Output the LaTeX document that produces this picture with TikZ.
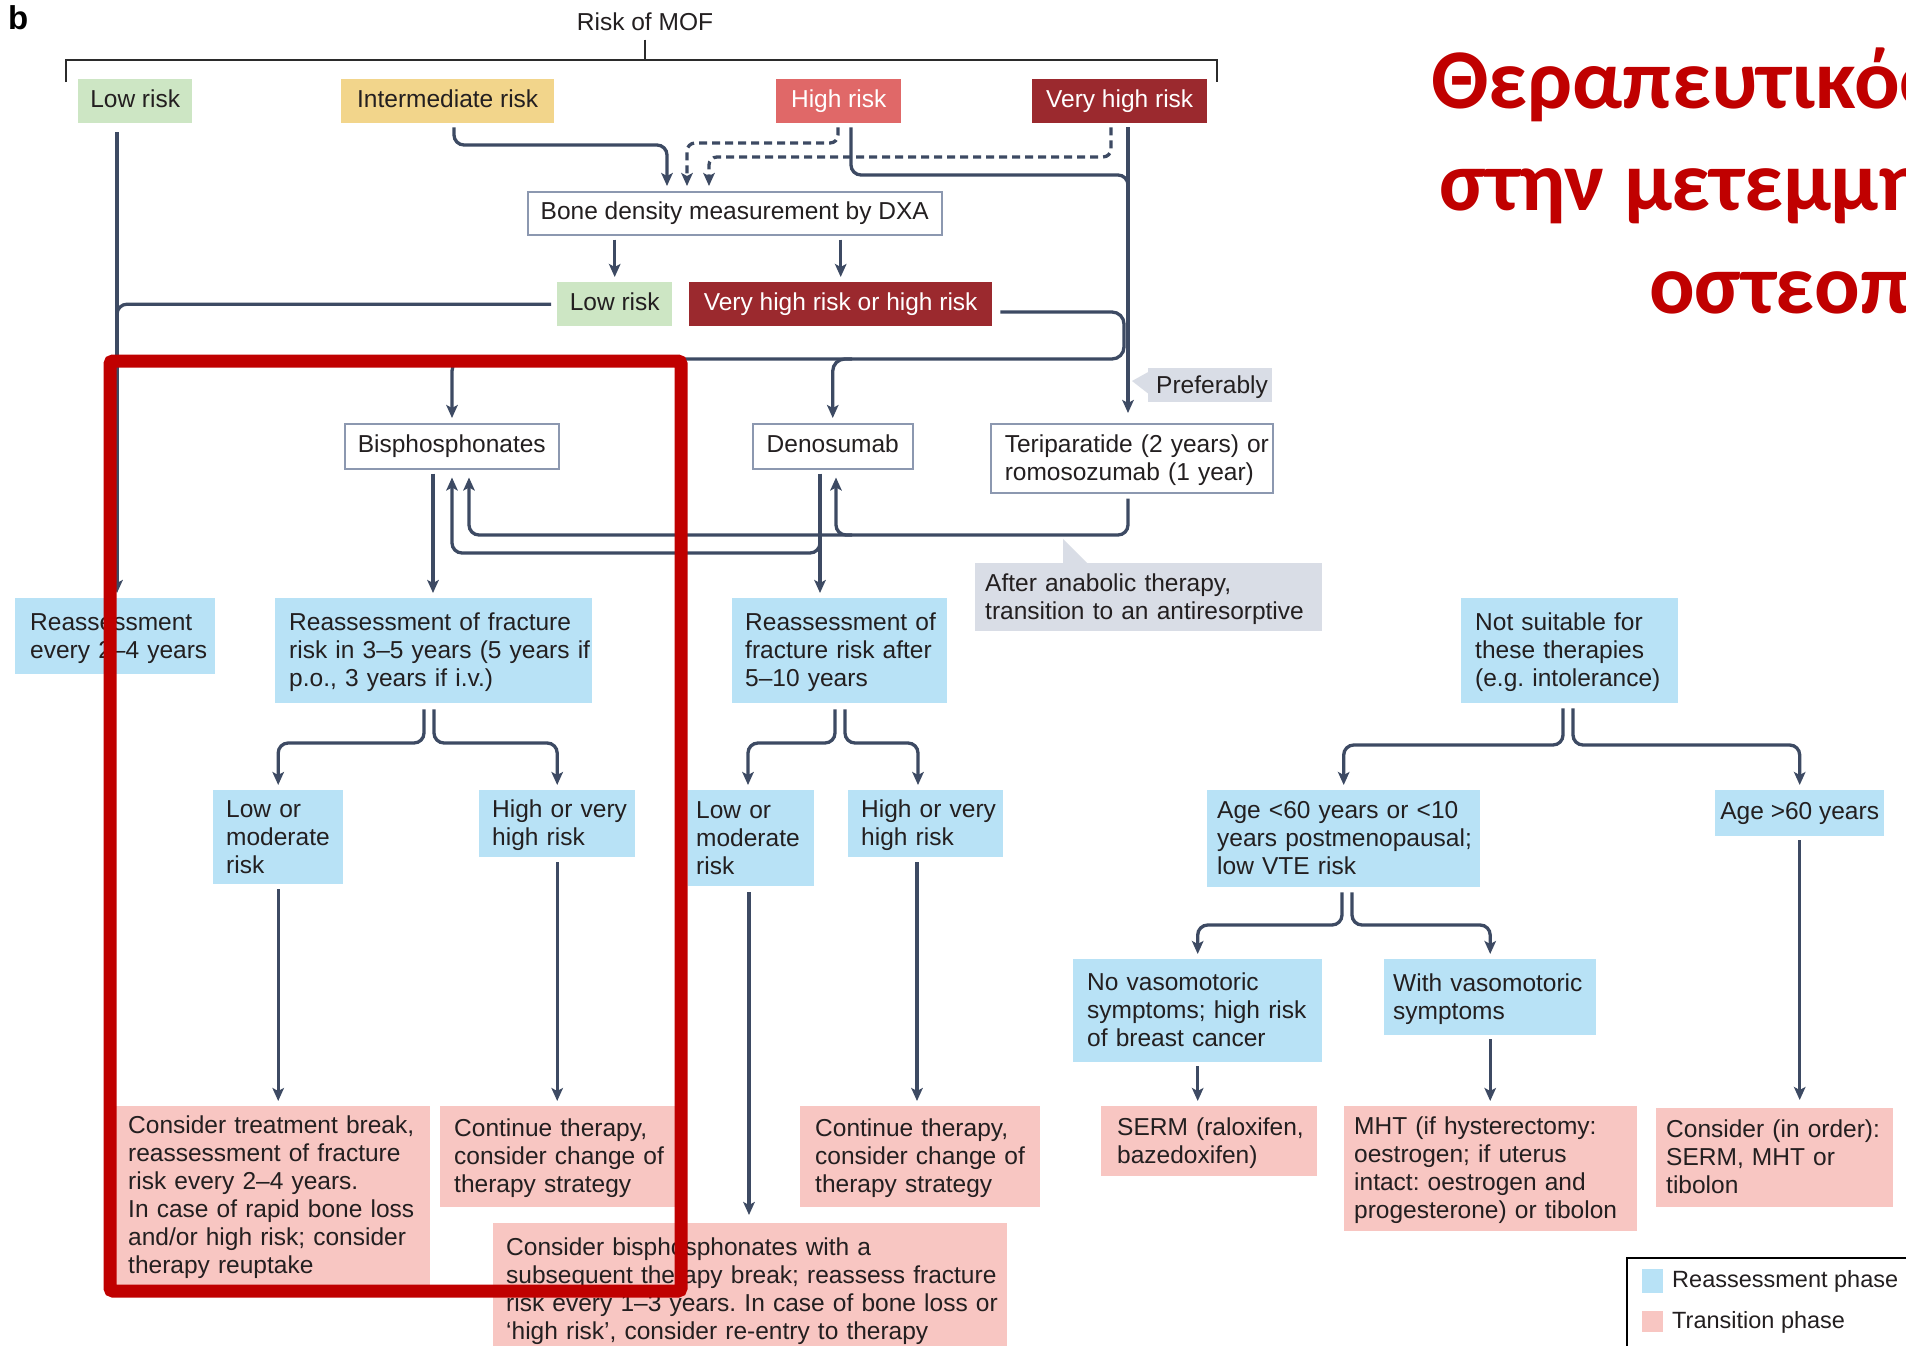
\documentclass[tikz,border=0pt]{standalone}
\usepackage{fontspec}
\setmainfont{Liberation Sans}
\newfontfamily\titlefont{Carlito}
\usetikzlibrary{arrows.meta,calc}
\frenchspacing
\definecolor{lnc}{HTML}{3D4A63}
\definecolor{txt}{HTML}{231F20}
\definecolor{bluef}{HTML}{B8E2F6}
\definecolor{pinkf}{HTML}{F8C6C2}
\definecolor{greenf}{HTML}{CDE6C4}
\definecolor{yellf}{HTML}{F2D58B}
\definecolor{hif}{HTML}{E06868}
\definecolor{vhif}{HTML}{9B292E}
\definecolor{greyf}{HTML}{D9DDE6}
\definecolor{bord}{HTML}{8C98B0}
\definecolor{hl}{HTML}{C00000}
\definecolor{brkc}{HTML}{2B2B2B}
\tikzset{
  basefont/.style={font=\frenchspacing\fontsize{24.5}{28}\selectfont, text=txt},
  lbox/.style={basefont, fill=bluef},
  pbox/.style={basefont, fill=pinkf},
  gbox/.style={basefont, fill=greenf},
  ybox/.style={basefont, fill=yellf},
  hbox/.style={basefont, fill=hif, text=white},
  vbox/.style={basefont, fill=vhif, text=white},
  wbox/.style={basefont, draw=bord, line width=1.5pt, fill=white},
  cbox/.style={basefont, fill=greyf},
  ln/.style={draw=lnc, line width=3.3pt},
  arr/.style={ln, -{Stealth[length=13pt,width=11.5pt,inset=3pt]}, shorten >=5pt},
  dsh/.style={arr, dash pattern=on 8pt off 5pt},
  brk/.style={draw=brkc, line width=2pt},
  ttl/.style={font=\titlefont\bfseries\fontsize{85}{100}\selectfont, text=hl, inner sep=0pt, anchor=base west},
}
% left-aligned box: [pad]{name}{style}{x1}{y1}{x2}{y2}{text}
\newcommand\bx[8][13]{%
  \pgfmathsetmacro\bxw{#6-#4}%
  \pgfmathsetmacro\bxh{#7-#5}%
  \pgfmathsetmacro\bxt{#6-#4-2*#1}%
  \node[#3, anchor=north west, minimum width=\bxw pt, minimum height=\bxh pt,
        text width=\bxt pt, inner xsep=#1pt, inner ysep=0pt, align=left]
        (#2) at (#4,#5) {\raisebox{-2.5pt}[\height][\depth]{\begin{tabular}{@{}l@{}}#8\end{tabular}}};}
% centred one-line box: {name}{style}{x1}{y1}{x2}{y2}{text}
\newcommand\cbx[7]{%
  \pgfmathsetmacro\bxw{#5-#3}%
  \pgfmathsetmacro\bxh{#6-#4}%
  \node[#2, anchor=north west, minimum width=\bxw pt, minimum height=\bxh pt,
        inner sep=0pt, text height=17.5pt, text depth=5pt, align=center]
        (#1) at (#3,#4) {#7};}
\begin{document}
\begin{tikzpicture}[x=1pt,y=-1pt]
\useasboundingbox (0,0) rectangle (1906,1345);
\clip (0,0) rectangle (1906,1345);
\fill[white] (0,0) rectangle (1906,1345);

% panel letter and title
\node[font=\bfseries\fontsize{33}{35}\selectfont, text=black, anchor=north west, inner sep=0pt] (lbl) at (8,5) {b};
\node[basefont, inner sep=0pt] (mof) at (645,21.5) {Risk of MOF};
\node[ttl] (t1) at (1431,108) {Θεραπευτικός};
\node[ttl] (t2) at (1439,210) {στην μετεμμη};
\node[ttl] (t3) at (1649,313) {οστεοπ};

% bracket
\coordinate (bl) at (66,60);
\coordinate (br) at (1217,60);
\draw[brk] (66,82) -- (bl) -- (br) -- (1217,82);
\draw[brk, shorten <=9pt] (mof.south) -- (mof.south |- bl);

% nodes
\cbx{lra}{gbox}{78}{79}{192}{123}{Low risk}
\cbx{ira}{ybox}{341}{79}{554}{123}{Intermediate risk}
\cbx{hra}{hbox}{776}{79}{901}{123}{High risk}
\cbx{vha}{vbox}{1032}{79}{1207}{123}{Very high risk}
\cbx{dxa}{wbox}{527}{191}{941}{234}{Bone density measurement by DXA}
\cbx{lrb}{gbox}{557}{282}{672}{326}{Low risk}
\cbx{vhb}{vbox}{689}{282}{992}{326}{Very high risk or high risk}
\cbx{bis}{wbox}{344}{423}{558}{468}{Bisphosphonates}
\cbx{den}{wbox}{752}{423}{912}{468}{Denosumab}
\bx[14]{ter}{wbox}{990}{423}{1272}{492}{Teriparatide (2 years) or\\romosozumab (1 year)}
\bx[8]{pref}{cbox}{1148}{368}{1272}{402}{Preferably}
\bx[10]{ana}{cbox}{975}{563}{1322}{631}{After anabolic therapy,\\transition to an antiresorptive}
\bx[15]{rea}{lbox}{15}{598}{215}{674}{Reassessment\\every 2–4 years}
\bx[14]{reb}{lbox}{275}{598}{592}{703}{Reassessment of fracture\\risk in 3–5 years (5 years if\\p.o., 3 years if i.v.)}
\bx{rdn}{lbox}{732}{598}{947}{703}{Reassessment of\\fracture risk after\\5–10 years}
\bx[14]{nsu}{lbox}{1461}{598}{1678}{703}{Not suitable for\\these therapies\\(e.g. intolerance)}
\bx{lmb}{lbox}{213}{790}{343}{884}{Low or\\moderate\\risk}
\bx{hvb}{lbox}{479}{790}{635}{857}{High or very\\high risk}
\bx[8]{lmd}{lbox}{688}{790}{814}{886}{Low or\\moderate\\risk}
\bx{hvd}{lbox}{848}{790}{1003}{857}{High or very\\high risk}
\bx[10]{agl}{lbox}{1207}{790}{1480}{887}{Age <60 years or <10\\years postmenopausal;\\low VTE risk}
\cbx{agg}{lbox}{1715}{790}{1884}{836}{Age >60 years}
\bx[14]{nov}{lbox}{1073}{959}{1322}{1062}{No vasomotoric\\symptoms; high risk\\of breast cancer}
\bx[9]{wva}{lbox}{1384}{959}{1596}{1035}{With vasomotoric\\symptoms}
\bx[12]{ctb}{pbox}{116}{1106}{430}{1285}{Consider treatment break,\\reassessment of fracture\\risk every 2–4 years.\\In case of rapid bone loss\\and/or high risk; consider\\therapy reuptake}
\bx[14]{ctda}{pbox}{440}{1106}{676}{1207}{Continue therapy,\\consider change of\\therapy strategy}
\bx{cbs}{pbox}{493}{1223}{1007}{1355}{Consider bisphosphonates with a\\subsequent therapy break; reassess fracture\\risk every 1–3 years. In case of bone loss or\\‘high risk’, consider re-entry to therapy}
\bx[15]{ctdb}{pbox}{800}{1106}{1040}{1207}{Continue therapy,\\consider change of\\therapy strategy}
\bx[16]{ser}{pbox}{1101}{1106}{1317}{1176}{SERM (raloxifen,\\bazedoxifen)}
\bx[10]{mht}{pbox}{1344}{1106}{1637}{1231}{MHT (if hysterectomy:\\oestrogen; if uterus\\intact: oestrogen and\\progesterone) or tibolon}
\bx[10]{cio}{pbox}{1656}{1108}{1893}{1207}{Consider (in order):\\SERM, MHT or\\tibolon}

% callout pointers
\fill[greyf] (1132,381) -- (1150,371) -- (1150,395) -- cycle;
\fill[greyf] (1063,539) -- (1063,564) -- (1088,564) -- cycle;

% guide coordinates
\coordinate (xa) at (117,0);
\coordinate (xv) at (1128,0);
\coordinate (xb) at (433,0);
\coordinate (xd) at (836,0);
\coordinate (xe) at (820,0);
\coordinate (xl) at (748,0);
\coordinate (xr) at (918,0);
\coordinate (xf) at (749,0);
\coordinate (xg) at (917,0);

% low risk paths
\draw[arr, shorten <=9pt] (lra.south -| xa) -- (rea.north -| xa);
\draw[ln, rounded corners=10pt, shorten <=6pt] (lrb.west) -- (lrb.west -| xa) -- ++(0,30);

% intermediate risk
\coordinate (ia1) at (454,145); \coordinate (ia2) at (667,145);
\draw[arr, rounded corners=10pt, shorten <=4pt] (ira.south -| ia1) -- (ia1) -- (ia2) -- (dxa.north -| ia2);
% dashed from high and very high risk
\coordinate (hd1) at (838,143); \coordinate (hd2) at (687,143);
\draw[dsh, rounded corners=8pt, shorten <=4pt] (hra.south -| hd1) -- (hd1) -- (hd2) -- (dxa.north -| hd2);
\coordinate (vd1) at (1111,157); \coordinate (vd2) at (709,157);
\draw[dsh, rounded corners=8pt, shorten <=4pt] (vha.south -| vd1) -- (vd1) -- (vd2) -- (dxa.north -| vd2);
% solid from high risk and very high risk
\coordinate (hs1) at (851,175);
\draw[ln, rounded corners=10pt, shorten <=4pt] (hra.south -| hs1) -- (hs1) -- (hs1 -| xv) -- ++(0,25);
\draw[arr, shorten <=4pt, shorten >=10pt] (vha.south -| xv) -- (ter.north -| xv);

% DXA outcomes
\draw[arr, shorten <=4pt] (dxa.south -| lrb.north) -- (lrb.north);
\draw[arr, shorten <=4pt] (dxa.south -| vhb.north) -- (vhb.north);

% very high / high -> bisphosphonates, denosumab
\coordinate (vb1) at (1124,312); \coordinate (vb2) at (1124,359); \coordinate (vb3) at (452,359);
\draw[arr, rounded corners=12pt, shorten <=8pt] (vhb.east |- vb1) -- (vb1) -- (vb2) -- (vb3) -- (bis.north -| vb3);
\coordinate (vb4) at (852,359);
\draw[arr, rounded corners=12pt] (vb4) -| (den.north);

% bisphosphonates down
\draw[arr, shorten <=4pt] (bis.south -| xb) -- (reb.north -| xb);
% teriparatide -> bisphosphonates, denosumab
\coordinate (tb1) at (1128,535); \coordinate (tb2) at (469,535);
\draw[arr, rounded corners=10pt, shorten <=5pt, shorten >=8pt] (ter.south -| tb1) -- (tb1) -- (tb2) -- (bis.south -| tb2);
\coordinate (tb3) at (852,535);
\draw[arr, rounded corners=10pt, shorten >=8pt] (tb3) -| (den.south -| xd);
% denosumab down and back to bisphosphonates
\draw[arr, shorten <=4pt] (den.south -| xe) -- (rdn.north -| xe);
\coordinate (db1) at (820,520); \coordinate (db2) at (820,553); \coordinate (db3) at (452,553);
\draw[arr, rounded corners=10pt, shorten >=8pt] (db1) -- (db2) -- (db3) -- (bis.south -| db3);

% splits
\coordinate (rs1) at (424,743); \coordinate (rs2) at (434,743);
\draw[arr, rounded corners=10pt, shorten <=6pt] (reb.south -| rs1) -- (rs1) -- (rs1 -| lmb.north) -- (lmb.north);
\draw[arr, rounded corners=10pt, shorten <=6pt] (reb.south -| rs2) -- (rs2) -- (rs2 -| hvb.north) -- (hvb.north);
\coordinate (ds1) at (835,743); \coordinate (ds2) at (845,743);
\draw[arr, rounded corners=10pt, shorten <=6pt] (rdn.south -| ds1) -- (ds1) -- (ds1 -| xl) -- (lmd.north -| xl);
\draw[arr, rounded corners=10pt, shorten <=6pt] (rdn.south -| ds2) -- (ds2) -- (ds2 -| xr) -- (hvd.north -| xr);
\coordinate (ns1) at (1563,745); \coordinate (ns2) at (1573,745);
\draw[arr, rounded corners=10pt, shorten <=5pt] (nsu.south -| ns1) -- (ns1) -- (ns1 -| agl.north) -- (agl.north);
\draw[arr, rounded corners=10pt, shorten <=5pt] (nsu.south -| ns2) -- (ns2) -- (ns2 -| agg.north) -- (agg.north);
\coordinate (as1) at (1342,925); \coordinate (as2) at (1352,925);
\draw[arr, rounded corners=10pt, shorten <=5pt] (agl.south -| as1) -- (as1) -- (as1 -| nov.north) -- (nov.north);
\draw[arr, rounded corners=10pt, shorten <=5pt] (agl.south -| as2) -- (as2) -- (as2 -| wva.north) -- (wva.north);

% straight down arrows
\draw[arr, shorten <=4pt, shorten >=8pt] (agg.south) -- (cio.north -| agg.south);
\draw[arr, shorten <=4pt] (nov.south) -- (ser.north -| nov.south);
\draw[arr, shorten <=4pt] (wva.south) -- (mht.north -| wva.south);
\draw[arr, shorten <=5pt] (lmb.south) -- (ctb.north -| lmb.south);
\draw[arr, shorten <=5pt] (hvb.south) -- (ctda.north -| hvb.south);
\draw[arr, shorten <=6pt, shorten >=8pt] (lmd.south -| xf) -- (cbs.north -| xf);
\draw[arr, shorten <=5pt] (hvd.south -| xg) -- (ctdb.north -| xg);

% legend
\draw[draw=black, line width=2pt] (1627,1258) rectangle (1930,1370);
\fill[bluef] (1642,1269) rectangle (1663,1293);
\fill[pinkf] (1642,1311) rectangle (1663,1332);
\node[basefont, font=\frenchspacing\fontsize{23.5}{28}\selectfont, anchor=west, inner sep=0pt] (lg1) at (1672,1281) {Reassessment phase};
\node[basefont, font=\frenchspacing\fontsize{23.5}{28}\selectfont, anchor=west, inner sep=0pt] (lg2) at (1672,1322) {Transition phase};

% highlight frame
\draw[draw=hl, line width=13pt, rounded corners=3pt] (110,361) rectangle (681,1291);
\end{tikzpicture}
\end{document}
